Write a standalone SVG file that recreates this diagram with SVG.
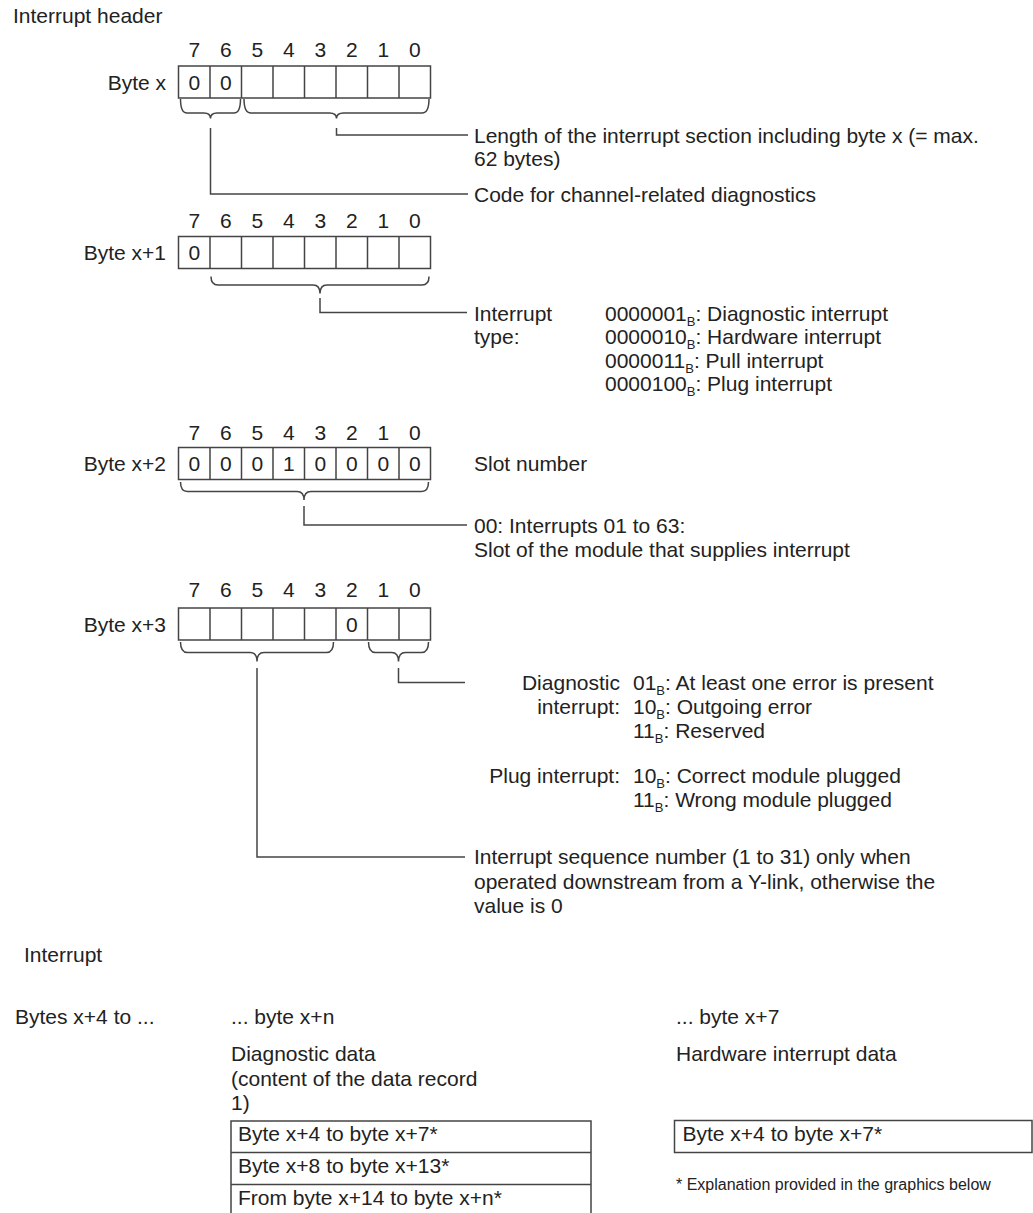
<svg xmlns="http://www.w3.org/2000/svg" width="1033" height="1213" viewBox="0 0 1033 1213">
<style>
text{font-family:"Liberation Sans",Arial,sans-serif;font-size:21px;fill:#222}
.d{text-anchor:middle}
.e{text-anchor:end}
.sub{font-size:13px}
.fn{font-size:16px}
.cell{fill:none;stroke:#444;stroke-width:1.5}
.ln{fill:none;stroke:#444;stroke-width:1.5}
</style>
<rect width="1033" height="1213" fill="#fff"/>
<text x="13" y="23">Interrupt header</text>

<g id="byte-x">
<g class="d"><text class="d" x="194.25" y="57">7</text><text class="d" x="225.75" y="57">6</text><text class="d" x="257.25" y="57">5</text><text class="d" x="288.75" y="57">4</text><text class="d" x="320.25" y="57">3</text><text class="d" x="351.75" y="57">2</text><text class="d" x="383.25" y="57">1</text><text class="d" x="414.75" y="57">0</text></g>
<text class="e" x="166" y="89.5">Byte x</text>
<path class="cell" d="M178.5 66h252v32h-252zM210 66v32M241.5 66v32M273 66v32M304.5 66v32M336 66v32M367.5 66v32M399 66v32"/>
<text class="d" x="194.25" y="89.5">0</text><text class="d" x="225.75" y="89.5">0</text>
</g>

<g id="byte-x1">
<text class="d" x="194.25" y="228">7</text><text class="d" x="225.75" y="228">6</text><text class="d" x="257.25" y="228">5</text><text class="d" x="288.75" y="228">4</text><text class="d" x="320.25" y="228">3</text><text class="d" x="351.75" y="228">2</text><text class="d" x="383.25" y="228">1</text><text class="d" x="414.75" y="228">0</text>
<text class="e" x="166" y="260">Byte x+1</text>
<path class="cell" d="M178.5 236.5h252v32h-252zM210 236.5v32M241.5 236.5v32M273 236.5v32M304.5 236.5v32M336 236.5v32M367.5 236.5v32M399 236.5v32"/>
<text class="d" x="194.25" y="260">0</text>
</g>

<g id="byte-x2">
<text class="d" x="194.25" y="439.5">7</text><text class="d" x="225.75" y="439.5">6</text><text class="d" x="257.25" y="439.5">5</text><text class="d" x="288.75" y="439.5">4</text><text class="d" x="320.25" y="439.5">3</text><text class="d" x="351.75" y="439.5">2</text><text class="d" x="383.25" y="439.5">1</text><text class="d" x="414.75" y="439.5">0</text>
<text class="e" x="166" y="471">Byte x+2</text>
<path class="cell" d="M178.5 447.5h252v32h-252zM210 447.5v32M241.5 447.5v32M273 447.5v32M304.5 447.5v32M336 447.5v32M367.5 447.5v32M399 447.5v32"/>
<text class="d" x="194.25" y="471">0</text><text class="d" x="225.75" y="471">0</text><text class="d" x="257.25" y="471">0</text><text class="d" x="288.75" y="471">1</text><text class="d" x="320.25" y="471">0</text><text class="d" x="351.75" y="471">0</text><text class="d" x="383.25" y="471">0</text><text class="d" x="414.75" y="471">0</text>
</g>

<g id="byte-x3">
<text class="d" x="194.25" y="597">7</text><text class="d" x="225.75" y="597">6</text><text class="d" x="257.25" y="597">5</text><text class="d" x="288.75" y="597">4</text><text class="d" x="320.25" y="597">3</text><text class="d" x="351.75" y="597">2</text><text class="d" x="383.25" y="597">1</text><text class="d" x="414.75" y="597">0</text>
<text class="e" x="166" y="631.5">Byte x+3</text>
<path class="cell" d="M178.5 608h252v32h-252zM210 608v32M241.5 608v32M273 608v32M304.5 608v32M336 608v32M367.5 608v32M399 608v32"/>
<text class="d" x="351.75" y="631.5">0</text>
</g>

<g id="connectors">
<path class="ln" d="M180.5 99Q180.5 113 187 113H204Q210.5 113 210.5 118.5Q210.5 113 217 113H234Q240.5 113 240.5 99"/>
<path class="ln" d="M244 99Q244 113 251 113H329.5Q336.5 113 336.5 118.5Q336.5 113 343.5 113H422Q429 113 429 99"/>
<path class="ln" d="M336.5 128V135H468"/>
<path class="ln" d="M210.5 128V194H468"/>
<path class="ln" d="M211 276.5Q211 285 218 285H313Q320 285 320 293.5Q320 285 327 285H422Q429 285 429 276.5"/>
<path class="ln" d="M320 298V312.5H467"/>
<path class="ln" d="M180.5 482Q180.5 491.5 187.5 491.5H297Q304 491.5 304 500Q304 491.5 311 491.5H421.5Q428.5 491.5 428.5 482"/>
<path class="ln" d="M304 506V525H467"/>
<path class="ln" d="M180.5 642Q180.5 652.5 187.5 652.5H250Q257 652.5 257 661.5Q257 652.5 264 652.5H326.5Q333.5 652.5 333.5 642"/>
<path class="ln" d="M368.5 642Q368.5 652.5 375.5 652.5H391.5Q398.5 652.5 398.5 661.5Q398.5 652.5 405.5 652.5H421.5Q428.5 652.5 428.5 642"/>
<path class="ln" d="M398.5 668V682.5H465"/>
<path class="ln" d="M257 668V857H465"/>
</g>

<g id="length-label">
<text x="474" y="143">Length of the interrupt section including byte x (= max.</text>
<text x="474" y="166">62 bytes)</text>
</g>
<g id="code-label">
<text x="474" y="202">Code for channel-related diagnostics</text>
</g>
<g id="interrupt-type">
<text x="474" y="320.5">Interrupt</text>
<text x="474" y="344">type:</text>
<text x="605" y="320.5">0000001<tspan class="sub" dy="5">B</tspan><tspan dy="-5">: Diagnostic interrupt</tspan></text>
<text x="605" y="344">0000010<tspan class="sub" dy="5">B</tspan><tspan dy="-5">: Hardware interrupt</tspan></text>
<text x="605" y="367.5">0000011<tspan class="sub" dy="5">B</tspan><tspan dy="-5">: Pull interrupt</tspan></text>
<text x="605" y="391">0000100<tspan class="sub" dy="5">B</tspan><tspan dy="-5">: Plug interrupt</tspan></text>
</g>
<g id="slot-label">
<text x="474" y="471">Slot number</text>
<text x="474" y="533">00: Interrupts 01 to 63:</text>
<text x="474" y="556.5">Slot of the module that supplies interrupt</text>
</g>
<g id="diag-label">
<text class="e" x="620" y="690">Diagnostic</text>
<text class="e" x="620" y="714">interrupt:</text>
<text x="633" y="690">01<tspan class="sub" dy="5">B</tspan><tspan dy="-5">: At least one error is present</tspan></text>
<text x="633" y="714">10<tspan class="sub" dy="5">B</tspan><tspan dy="-5">: Outgoing error</tspan></text>
<text x="633" y="738">11<tspan class="sub" dy="5">B</tspan><tspan dy="-5">: Reserved</tspan></text>
<text class="e" x="620" y="782.5">Plug interrupt:</text>
<text x="633" y="782.5">10<tspan class="sub" dy="5">B</tspan><tspan dy="-5">: Correct module plugged</tspan></text>
<text x="633" y="806.5">11<tspan class="sub" dy="5">B</tspan><tspan dy="-5">: Wrong module plugged</tspan></text>
</g>
<g id="sequence-label">
<text x="474" y="864">Interrupt sequence number (1 to 31) only when</text>
<text x="474" y="888.5">operated downstream from a Y-link, otherwise the</text>
<text x="474" y="913">value is 0</text>
</g>

<g id="interrupt-section">
<text x="24" y="962">Interrupt</text>
<text x="15" y="1024">Bytes x+4 to ...</text>
</g>
<g id="diagnostic-data">
<text x="231" y="1024">... byte x+n</text>
<text x="231" y="1061">Diagnostic data</text>
<text x="231" y="1085.5">(content of the data record</text>
<text x="231" y="1110">1)</text>
<path class="cell" d="M231 1121H591V1217H231ZM231 1152.5H591M231 1184.5H591"/>
<text x="238" y="1141">Byte x+4 to byte x+7*</text>
<text x="238" y="1173">Byte x+8 to byte x+13*</text>
<text x="238" y="1205">From byte x+14 to byte x+n*</text>
</g>
<g id="hardware-data">
<text x="676" y="1024">... byte x+7</text>
<text x="676" y="1061">Hardware interrupt data</text>
<rect class="cell" x="674.5" y="1120.5" width="357.5" height="32"/>
<text x="682.5" y="1141">Byte x+4 to byte x+7*</text>
<text class="fn" x="676" y="1190">* Explanation provided in the graphics below</text>
</g>
</svg>
